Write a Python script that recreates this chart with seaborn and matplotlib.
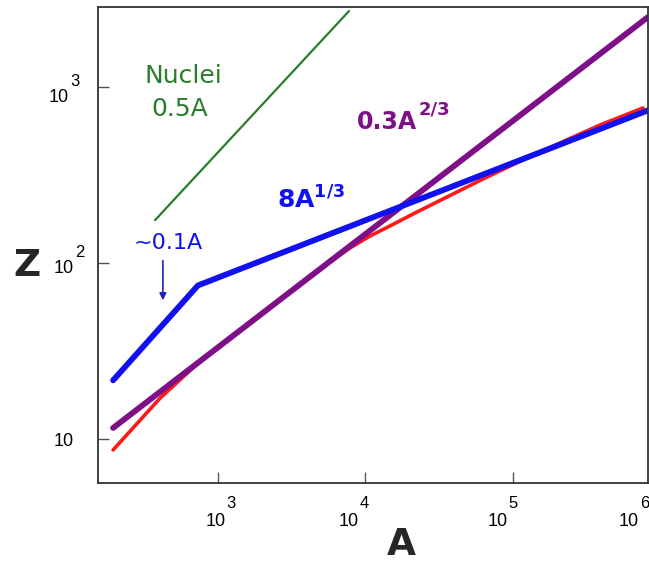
import numpy as np
import pandas as pd
import matplotlib
matplotlib.use("Agg")
import matplotlib.pyplot as plt
import seaborn as sns

# ---- data (log-log) ----
nuclei_A = [372, 7730]
nuclei_Z = [175, 2686]

blue_A = [193, 728, 830000]
blue_Z = [21.6, 74.6, 734]

purple_A = [193, 830000]
purple_Z = [11.6, 2484]

red_A = [193, 402, 752, 1920, 5740, 7850, 10730, 14670, 21700, 33610,
         64830, 125100, 209600, 391900, 767800]
red_Z = [8.7, 17.1, 27.7, 50.6, 101.3, 121.6, 142.2, 162.2, 192.2, 230.7,
         303.4, 394.0, 479.4, 606.5, 757.2]

x_ticks = [1e3, 1e4, 1e5]
y_ticks = [10, 100, 1000]
x_tick_base = ["10", "10", "10", "10"]
x_tick_exp = ["3", "4", "5", "6"]
y_tick_base = ["10", "10", "10"]
y_tick_exp = ["", "2", "3"]

sns.set_theme(style="ticks")
plt.rcParams["font.family"] = ["Liberation Sans", "DejaVu Sans"]
plt.rcParams["mathtext.default"] = "regular"

W, H = 649, 568
fig = plt.figure(figsize=(W / 100, H / 100), dpi=100)
ax = fig.add_axes([98 / W, 1 - 483 / H, 550 / W, 476 / H])
ax.set_xscale("log")
ax.set_yscale("log")

sns.lineplot(x=nuclei_A, y=nuclei_Z, ax=ax, color="#2a7d2a", lw=1.6)
sns.lineplot(x=red_A, y=red_Z, ax=ax, color="#ff1a1a", lw=2.6)
sns.lineplot(x=purple_A, y=purple_Z, ax=ax, color="#7f0f88", lw=4.2)
sns.lineplot(x=blue_A, y=blue_Z, ax=ax, color="#1010f0", lw=4.2)

ax.set_xlim(152.4, 8.3e5)
ax.set_ylim(5.65, 2831)
ax.set_xticks(x_ticks)
ax.set_yticks(y_ticks)
ax.minorticks_off()
ax.set_xticklabels([""] * len(x_ticks))
ax.set_yticklabels([""] * len(y_ticks))
ax.tick_params(axis="both", direction="in", length=8, width=1.0,
               color="#555555", bottom=True, left=True, top=False, right=False)
for s in ax.spines.values():
    s.set_color("#333333")
    s.set_linewidth(1.3)
ax.set_xlabel("")
ax.set_ylabel("")


def ftext(px, py, s, **kw):
    fig.text(px / W, 1 - py / H, s, **kw)


# tick labels drawn as "10" plus a full-size raised exponent (as in the reference)
x_lab_centers = [215.5, 348.5, 497.5, 629]
for cx, b, e in zip(x_lab_centers, x_tick_base, x_tick_exp):
    ftext(cx, 526, b, fontsize=13, ha="center", va="baseline", color="black")
    ftext(cx + 11, 508, e, fontsize=12, ha="left", va="baseline", color="black")

y_lab_pos = [(64, 446), (64, 273), (59, 102)]
for (cx, by), b, e in zip(y_lab_pos, y_tick_base, y_tick_exp):
    ftext(cx, by, b, fontsize=13, ha="center", va="baseline", color="black")
    if e:
        ftext(cx + 11, by - 16, e, fontsize=12, ha="left", va="baseline",
              color="black")

# annotations
tf = ax.transAxes
ax.text(0.156, 0.855, "Nuclei", transform=tf, color="#2a7d2a", fontsize=18,
        ha="center", va="center", family="DejaVu Sans")
ax.text(0.149, 0.786, "0.5A", transform=tf, color="#2a7d2a", fontsize=18,
        ha="center", va="center", family="DejaVu Sans")
ax.text(0.4705, 0.759, "0.3A", transform=tf, color="#7f0f88",
        fontsize=17, fontweight="bold", ha="left", va="center",
        family="DejaVu Sans")
ax.text(0.5836, 0.785, "2/3", transform=tf, color="#7f0f88",
        fontsize=13, fontweight="bold", ha="left", va="center",
        family="DejaVu Sans")
ax.text(0.387, 0.595, "8A$^{\\mathbf{1/3}}$", transform=tf, color="#1010f0",
        fontsize=18, fontweight="bold", ha="center", va="center",
        family="DejaVu Sans")
ax.text(0.127, 0.504, "~0.1A", transform=tf, color="#1010f0", fontsize=16,
        ha="center", va="center", family="DejaVu Sans")
ax.annotate("", xy=(0.118, 0.378), xytext=(0.118, 0.473),
            xycoords=tf, textcoords=tf,
            arrowprops=dict(arrowstyle="-|>", color="#2020c0", lw=1.2,
                            mutation_scale=10))

ftext(27, 266, "Z", fontsize=27, fontweight="bold", ha="center", va="center",
      family="DejaVu Sans")
ftext(401, 545, "A", fontsize=27, fontweight="bold", ha="center", va="center",
      family="DejaVu Sans")

fig.savefig("out.png", dpi=100)
